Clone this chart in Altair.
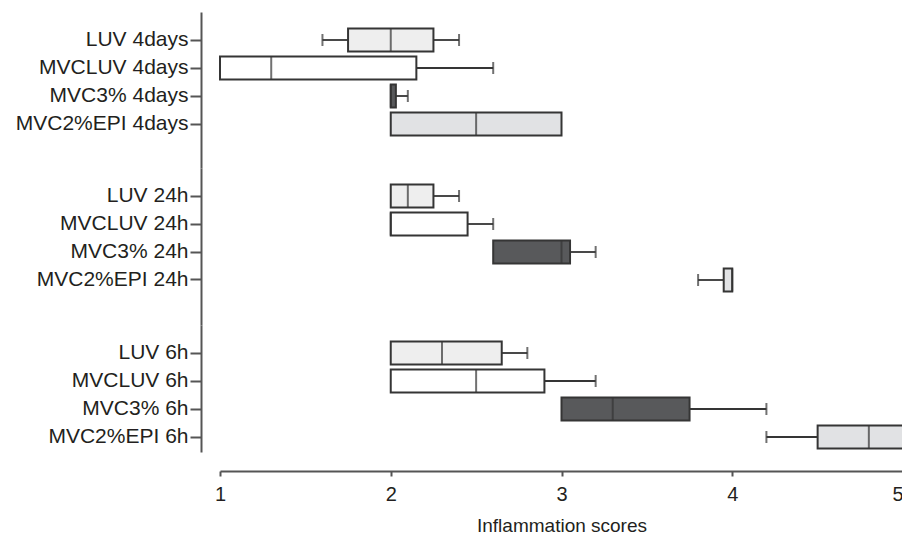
import altair as alt
import pandas as pd

groups = ["4days", "24h", "6h"]
treatments = ["LUV", "MVCLUV", "MVC3%", "MVC2%EPI"]
row_labels = [f"{t} {g}" for g in groups for t in treatments]

whisker_low = [1.6, 1.0, 2.0, 2.0, 2.0, 2.0, 2.6, 3.8, 2.0, 2.0, 3.0, 4.2]
q1 = [1.75, 1.0, 2.0, 2.0, 2.0, 2.0, 2.6, 3.95, 2.0, 2.0, 3.0, 4.5]
median = [2.0, 1.3, 2.0, 2.5, 2.1, 2.0, 3.0, 4.0, 2.3, 2.5, 3.3, 4.8]
q3 = [2.25, 2.15, 2.03, 3.0, 2.25, 2.45, 3.05, 4.0, 2.65, 2.9, 3.75, 5.0]
whisker_high = [2.4, 2.6, 2.1, 3.0, 2.4, 2.6, 3.2, 4.0, 2.8, 3.2, 4.2, 5.0]

x_ticks = [1, 2, 3, 4, 5]
fill_colors = ["#eeeeee", "#ffffff", "#58595b", "#e1e2e4"]

df = pd.DataFrame({
    "label": row_labels,
    "group": [g for g in groups for _ in treatments],
    "treatment": [t for _ in groups for t in treatments],
    "lo": whisker_low, "q1": q1, "med": median, "q3": q3, "hi": whisker_high,
})

STROKE = "#353535"
FONT = "Liberation Sans"
STEP = 28


def panel(g, top_space, bottom_space, show_x):
    d = df[df.group == g]
    order = [f"{t} {g}" for t in treatments]
    outer = top_space + bottom_space
    height = STEP * len(order) + outer
    y = alt.Y("label:N", sort=order,
              scale=alt.Scale(domain=order, paddingInner=0,
                              paddingOuter=outer / 2 / STEP, align=top_space / outer),
              axis=alt.Axis(title=None, offset=19, tickSize=11, labelPadding=2, labelFontSize=21))
    xs = alt.Scale(domain=[1, 5], nice=False, zero=False)
    if show_x:
        xa = alt.Axis(values=x_ticks, offset=19, tickSize=5, grid=False, labelPadding=8,
                      labelFontSize=20, title="Inflammation scores", titlePadding=12,
                      titleFontSize=19, format="d",
                      labelAlign={"expr": "datum.value == 5 ? 'right' : 'center'"})
    else:
        xa = None

    def X(f):
        return alt.X(f, scale=xs, axis=xa, title="Inflammation scores")

    base = alt.Chart(d).encode(y=y)
    lw = base.transform_filter("datum.lo < datum.q1").mark_rule(
        color=STROKE, strokeWidth=1.8).encode(x=X("lo:Q"), x2="q1:Q")
    hw = base.transform_filter("datum.hi > datum.q3").mark_rule(
        color=STROKE, strokeWidth=1.8).encode(x=X("q3:Q"), x2="hi:Q")
    box = base.mark_bar(size=23, stroke=STROKE, strokeWidth=2).encode(
        x=X("q1:Q"), x2="q3:Q",
        fill=alt.Fill("treatment:N", scale=alt.Scale(domain=treatments, range=fill_colors), legend=None))
    med = base.mark_tick(size=23, thickness=2, color=STROKE).encode(x=X("med:Q"))
    lc = base.transform_filter("datum.lo < datum.q1").mark_tick(
        size=12, thickness=2, color=STROKE).encode(x=X("lo:Q"))
    hc = base.transform_filter("datum.hi > datum.q3").mark_tick(
        size=12, thickness=2, color=STROKE).encode(x=X("hi:Q"))
    return alt.layer(lw, hw, box, med, lc, hc).properties(width=683, height=height)


chart = alt.vconcat(
    panel("4days", 14, 30, False),
    panel("24h", 14, 31, False),
    panel("6h", 14, 1, True),
    spacing=0,
    bounds="flush",
).properties(
    padding={"left": 7, "top": 4, "right": -2, "bottom": 0},
).configure_view(stroke=None).configure_axis(
    labelFont=FONT, titleFont=FONT,
    labelColor="#231f20", titleColor="#231f20", titleFontWeight="normal",
    domainColor="#555555", tickColor="#555555", domainWidth=2, tickWidth=2,
)

chart.save("out.html", embed_options={"renderer": "svg", "actions": False})
